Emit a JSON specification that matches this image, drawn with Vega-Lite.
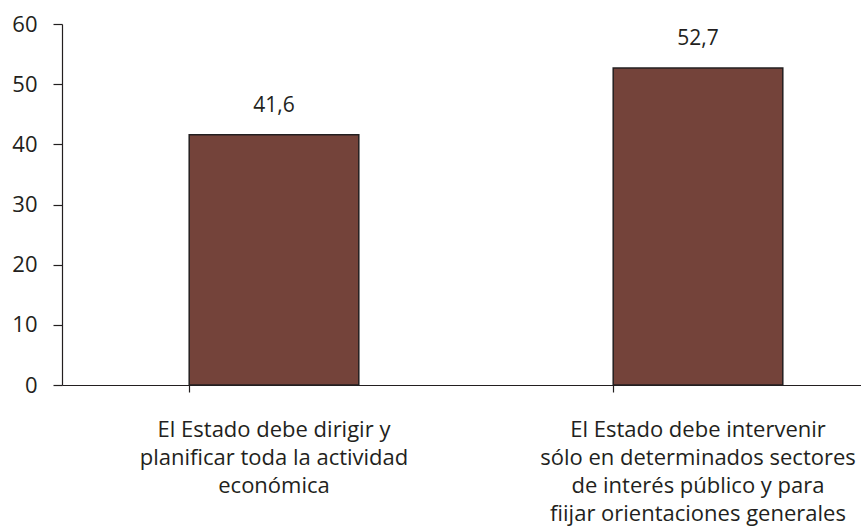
{
  "$schema": "https://vega.github.io/schema/vega-lite/v6.json",
  "width": 799,
  "height": 361,
  "autosize": {"type": "none"},
  "padding": {"left": 62, "top": 24, "right": 0, "bottom": 146},
  "background": "white",
  "config": {
    "view": {"stroke": null},
    "font": "Open Sans",
    "locale": {"number": {"decimal": ",", "thousands": ".", "grouping": [3], "currency": ["", " €"]}}
  },
  "data": {
    "values": [
      {"opinion": "El Estado debe dirigir y planificar toda la actividad económica", "pct": 41.6},
      {"opinion": "El Estado debe intervenir sólo en determinados sectores de interés público y para fiijar orientaciones generales", "pct": 52.7}
    ]
  },
  "encoding": {
    "x": {
      "field": "opinion",
      "type": "nominal",
      "sort": null,
      "scale": {"paddingInner": 0.6, "paddingOuter": 0.3, "range": [0, 848]},
      "axis": {
        "title": null,
        "labelAngle": 0,
        "labelFont": "Open Sans",
        "labelFontSize": 22,
        "labelColor": "#231F20",
        "labelLineHeight": 28,
        "labelPadding": 27,
        "labelBaseline": "top",
        "labelLimit": 400,
        "labelExpr": "datum.index == 0 ? ['El Estado debe dirigir y', 'planificar  toda  la actividad', 'económica'] : ['El Estado  debe intervenir', 'sólo en determinados sectores', 'de interés público y para', 'fiijar orientaciones generales']",
        "bandPosition": 0,
        "tickSize": 7,
        "tickColor": "#231F20",
        "domainColor": "#231F20",
        "domainWidth": 1.2,
        "tickWidth": 1.2
      }
    },
    "y": {
      "field": "pct",
      "type": "quantitative",
      "scale": {"domain": [0, 60], "nice": false},
      "axis": {
        "title": null,
        "values": [0, 10, 20, 30, 40, 50, 60],
        "grid": false,
        "tickSize": 9,
        "labelPadding": 16,
        "labelFont": "Open Sans",
        "labelFontSize": 22,
        "labelColor": "#231F20",
        "tickColor": "#231F20",
        "domainColor": "#231F20",
        "domainWidth": 1.2,
        "tickWidth": 1.2
      }
    }
  },
  "layer": [
    {
      "mark": {"type": "bar", "color": "#74433A", "stroke": "#231F20", "strokeWidth": 1.5}
    },
    {
      "mark": {"type": "text", "baseline": "bottom", "dy": -19, "fontSize": 21, "font": "Open Sans", "color": "#231F20"},
      "encoding": {"text": {"field": "pct", "type": "quantitative", "format": ".1f"}}
    }
  ]
}
